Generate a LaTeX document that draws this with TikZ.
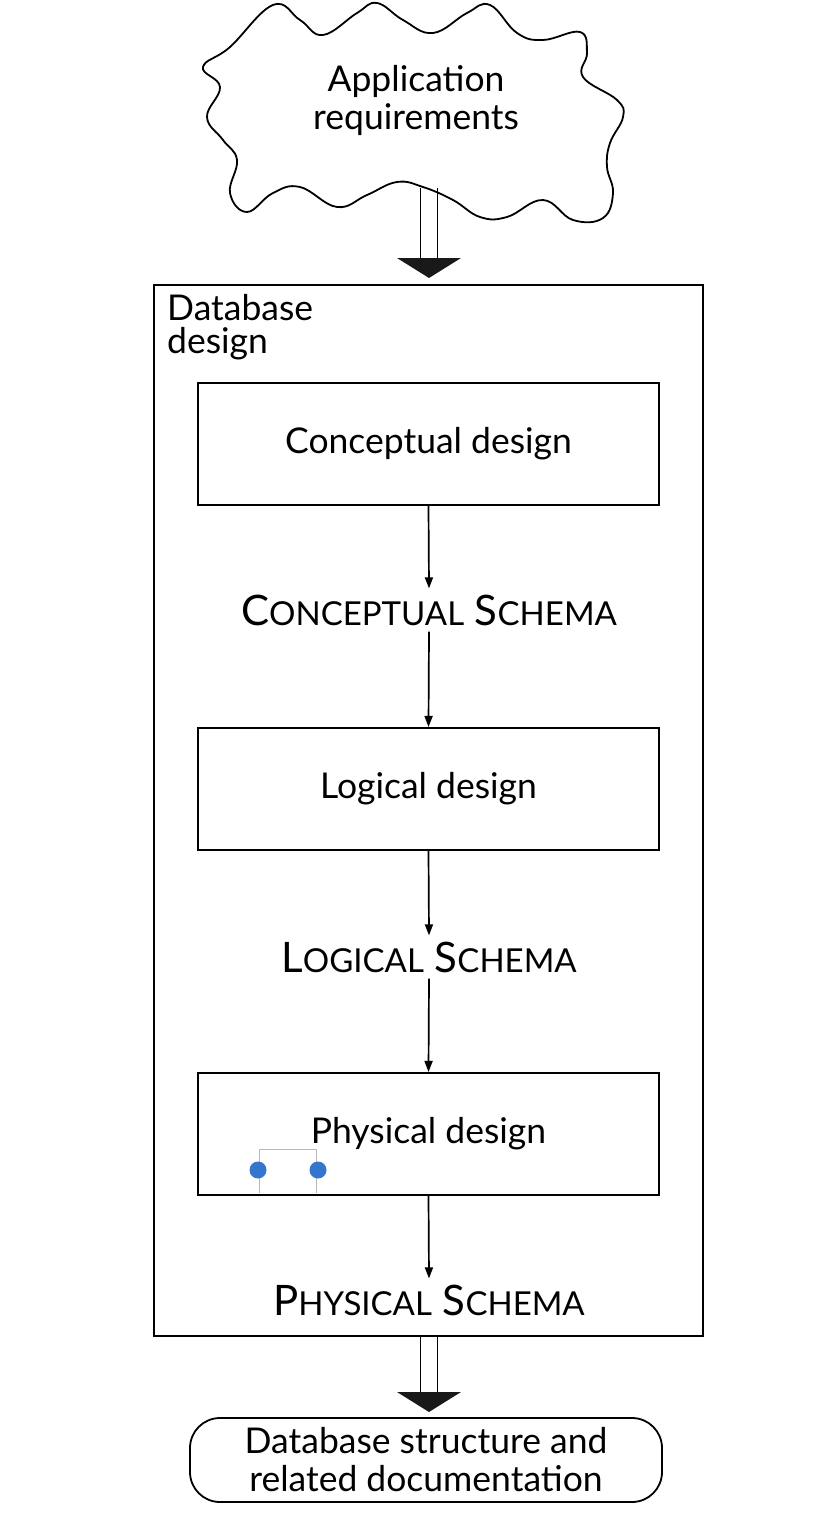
\documentclass[tikz,border=0pt]{standalone}
\usepackage{fontspec}
\setmainfont{Lato}
\usepackage{tikz}
\usetikzlibrary{arrows.meta, positioning, calc}
\definecolor{handleblue}{RGB}{52,118,206}
\newcommand{\bigtxt}{\fontsize{35.5}{38}\selectfont}
\newcommand{\captxt}{\fontsize{42}{46}\selectfont}
\newcommand{\smcap}[1]{{\fontsize{33}{36}\selectfont #1}}
\newcommand{\hollowarrow}[2]{%
  \draw[line width=1.8pt] ($(#1)+(-8.5,0)$) -- ($(#2)+(-8.5,-20)$);
  \draw[line width=1.8pt] ($(#1)+(8.5,0)$) -- ($(#2)+(8.5,-20)$);
  \fill[black!90] ($(#2)+(-32,-20)$) -- ($(#2)+(32,-20)$) -- (#2) -- cycle;
}
\tikzset{
  designbox/.style={
    draw, line width=2.1pt, fill=white, align=center,
    minimum width=461pt, minimum height=122pt, font=\bigtxt
  },
  outerbox/.style={
    draw, line width=2.1pt, fill=white,
    minimum width=549pt, minimum height=1051pt
  },
  schemalabel/.style={
    font=\captxt, inner sep=6pt
  },
  plainlabel/.style={
    font=\bigtxt, align=left, inner sep=0pt
  },
  docsbox/.style={
    draw, line width=1.8pt, rounded corners=30pt, align=center,
    minimum width=472pt, minimum height=84pt, font=\bigtxt
  },
  flowarrow/.style={
    -{Triangle[length=11pt,width=8pt]}, line width=1.7pt
  },
}

\begin{document}
\begin{tikzpicture}[x=1pt, y=-1pt]
  \useasboundingbox (0,0) rectangle (830,1528);

  % Cloud with the requirements
  \draw[line width=1.8pt, fill=white] plot[smooth cycle, tension=0.7] coordinates {
    (203,67) (230,47) (273,5) (300,20) (323,35) (357,13) (377,3)
    (403,20) (433,33) (467,13) (490,5) (517,33) (543,40) (580,32)
    (587,53) (583,77) (617,100) (623,117) (610,143) (607,167)
    (613,193) (603,218) (573,220) (543,200) (507,217) (480,217)
    (453,200) (423,187) (397,182) (367,195) (337,207) (300,187)
    (273,193) (247,212) (230,193) (237,160) (223,140) (207,117)
    (220,87)
  };
  \node[plainlabel, align=center] (req) at (416,100)
    {Application\\requirements};

  % Outer frame
  \node[outerbox] (dbdesign) at (428.5,810.5) {};
  \node[plainlabel, anchor=north west] (dblabel) at (167,294)
    {Database\\[-5pt]design};

  % Steps of the design
  \node[designbox] (concept) at (428.5,444) {Conceptual design};
  \node[schemalabel] (cschema) at (429,610)
    {C\smcap{ONCEPTUAL} S\smcap{CHEMA}};
  \node[designbox] (logic) at (428.5,789) {Logical design};
  \node[schemalabel] (lschema) at (429,957)
    {L\smcap{OGICAL} S\smcap{CHEMA}};
  \node[designbox] (phys) at (428.5,1134) {Physical design};
  \node[schemalabel] (pschema) at (429,1300)
    {P\smcap{HYSICAL} S\smcap{CHEMA}};

  % Result
  \node[docsbox] (docs) at (426,1460)
    {Database structure and\\related documentation};

  % Connectors
  \draw[flowarrow] (concept.south) -- (cschema.north);
  \draw[flowarrow] (cschema.south) -- (logic.north);
  \draw[flowarrow] (logic.south) -- (lschema.north);
  \draw[flowarrow] (lschema.south) -- (phys.north);
  \draw[flowarrow] (phys.south) -- (pschema.north);

  \coordinate (cloudfoot) at (429,188);
  \coordinate (frametop) at (429,278);
  \hollowarrow{cloudfoot}{frametop}
  \coordinate (framefoot) at (429,1337);
  \coordinate (docstop) at (429,1412);
  \hollowarrow{framefoot}{docstop}

  % Selection handle left in the drawing
  \draw[gray!55, line width=1pt] (259,1193) -- (259,1149) -- (316,1149) -- (316,1193);
  \fill[handleblue] (258,1170) circle (8.5);
  \fill[handleblue] (318,1170) circle (8.5);
\end{tikzpicture}
\end{document}
